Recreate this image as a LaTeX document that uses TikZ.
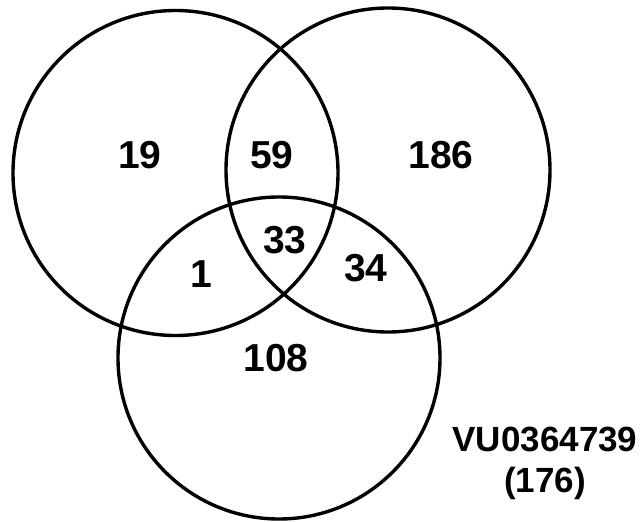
\documentclass[tikz,border=0pt]{standalone}
\usepackage{fontspec}
\setmainfont{Liberation Sans}
\begin{document}
\begin{tikzpicture}[x=1pt,y=-1pt,
  set/.style={draw=black,line width=3.4pt},
  count/.style={font=\bfseries\fontsize{39}{44}\selectfont,inner sep=0pt},
  setname/.style={font=\bfseries\fontsize{35}{41}\selectfont,align=center,inner sep=0pt}]
  \useasboundingbox (0,0) rectangle (640,522);
  % the three sets
  \draw[set] (175.5,173) circle[radius=162.5];
  \draw[set] (388,170) circle[radius=162];
  \draw[set] (279,358) circle[radius=161];
  % region counts
  \node[count] (a)   at (140,155) {19};
  \node[count] (ab)  at (272,155) {59};
  \node[count] (b)   at (441,155) {186};
  \node[count] (abc) at (285,240) {33};
  \node[count] (ac)  at (201,274) {1};
  \node[count] (bc)  at (366,268) {34};
  \node[count] (c)   at (276,358) {108};
  % set label
  \node[setname] (lab) at (545,463) {VU0364739\\(176)};
\end{tikzpicture}
\end{document}
